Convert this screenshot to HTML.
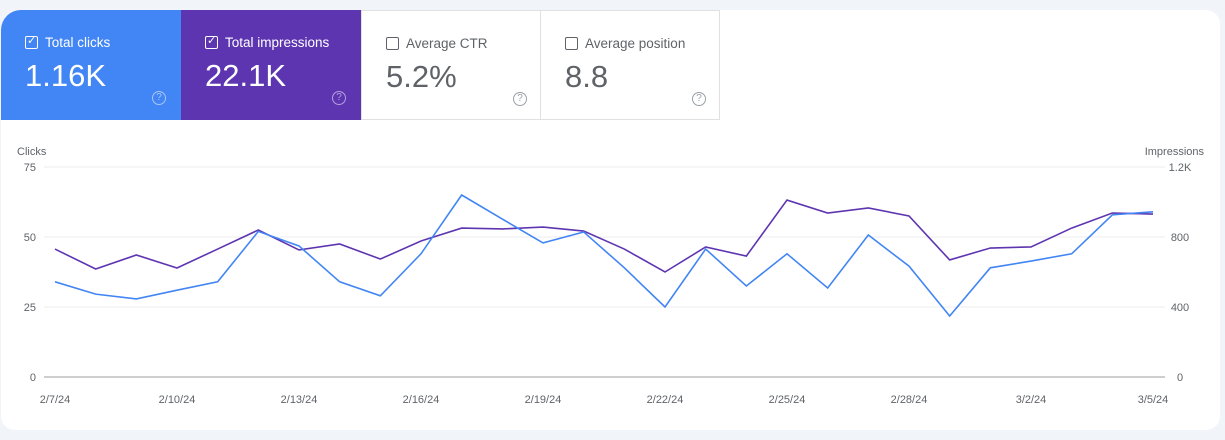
<!DOCTYPE html>
<html><head><meta charset="utf-8"><style>
body{margin:0;width:1225px;height:440px;background:#f1f4f9;font-family:"Liberation Sans",Arial,sans-serif;overflow:hidden;position:relative}
.card{position:absolute;left:1px;top:10px;width:1219px;height:420px;background:#fff;border-radius:20px 14px 14px 14px;overflow:hidden}
.tile{position:absolute;top:0;width:180px;height:110px;box-sizing:border-box}
.tile .lbl{position:absolute;left:24px;top:25px;font-size:13.5px}
.tile .cb{display:inline-block;width:11px;height:11px;border:1.5px solid;border-radius:2px;vertical-align:-2px;margin-right:7px;position:relative}
.tile .val{position:absolute;left:24px;top:48px;font-size:31px}
.tile .q{position:absolute;left:151px;top:81px;width:12px;height:12px;border:1.5px solid;border-radius:50%;font-size:10px;text-align:center;line-height:12px}
</style></head><body>
<div class="card">
<div class="tile" style="left:0;background:#4285f4;color:#fff"><div class="lbl"><span class="cb" style="border-color:#fff"><span style="position:absolute;left:1px;top:-3px;font-size:11px">✓</span></span>Total clicks</div><div class="val">1.16K</div><div class="q" style="border-color:#a9c6fa;color:#a9c6fa">?</div></div>
<div class="tile" style="left:180px;background:#5e35b1;color:#fff"><div class="lbl"><span class="cb" style="border-color:#fff"><span style="position:absolute;left:1px;top:-3px;font-size:11px">✓</span></span>Total impressions</div><div class="val">22.1K</div><div class="q" style="border-color:#b3a0de;color:#b3a0de">?</div></div>
<div class="tile" style="left:360px;border:1px solid #e0e0e0;color:#5f6368"><div class="lbl"><span class="cb" style="border-color:#5f6368"></span>Average CTR</div><div class="val">5.2%</div><div class="q" style="border-color:#9aa0a6;color:#9aa0a6">?</div></div>
<div class="tile" style="left:539px;border:1px solid #e0e0e0;color:#5f6368"><div class="lbl"><span class="cb" style="border-color:#5f6368"></span>Average position</div><div class="val">8.8</div><div class="q" style="border-color:#9aa0a6;color:#9aa0a6">?</div></div>
</div>
<svg id="chart" width="1225" height="440" style="position:absolute;left:0;top:0"></svg>
<script>
const dates=['2/7/24','2/8/24','2/9/24','2/10/24','2/11/24','2/12/24','2/13/24','2/14/24','2/15/24','2/16/24','2/17/24','2/18/24','2/19/24','2/20/24','2/21/24','2/22/24','2/23/24','2/24/24','2/25/24','2/26/24','2/27/24','2/28/24','2/29/24','3/1/24','3/2/24','3/3/24','3/4/24','3/5/24'];
const clicks=[34,29.6,27.9,31,34,52,46.8,34,29,44,65,56.4,47.9,51.8,39,25,45.7,32.5,44,31.8,50.7,39.6,21.8,39,41.4,44,57.9,59];
const impressions=[731,617,697,623,731,840,726,760,674,777,851,846,857,834,731,600,743,691,1011,937,966,920,669,737,743,851,937,931];
const leftTicks=[0,25,50,75];
const rightTicks=['0','400','800','1.2K'];
const rightVals=[0,400,800,1200];
const NS='http://www.w3.org/2000/svg',svg=document.getElementById('chart');
const X0=55,X1=1153,Y0=377,Y1=167;
const x=i=>X0+(X1-X0)*i/(dates.length-1);
const yl=v=>Y0-(Y0-Y1)*v/75;
const yr=v=>Y0-(Y0-Y1)*v/1200;
function mk(t,a,txt){const e=document.createElementNS(NS,t);for(const k in a)e.setAttribute(k,a[k]);if(txt!==undefined)e.textContent=txt;svg.appendChild(e);return e;}
leftTicks.forEach((v,i)=>{
 const g=mk('line',{x1:44,x2:1165,y1:yl(v),y2:yl(v),stroke:v===0?'#9e9e9e':'#ececec','stroke-width':1});
 
 const t=mk('text',{x:36,y:yl(v)+4,'text-anchor':'end','font-size':11,fill:'#5f6368'},String(v));
 
 const r=mk('text',{x:1180,y:yr(rightVals[i])+4,'text-anchor':'middle','font-size':11,fill:'#5f6368'},rightTicks[i]);
 
});
const lt=mk('text',{x:17,y:155,'font-size':11,fill:'#5f6368'},'Clicks');

const rt=mk('text',{x:1204,y:155,'text-anchor':'end','font-size':11,fill:'#5f6368'},'Impressions');

dates.forEach((d,i)=>{if(i%3===0){const t=mk('text',{x:x(i),y:403,'text-anchor':'middle','font-size':11,fill:'#5f6368'},d);
 }});
const pi=mk('polyline',{points:impressions.map((v,i)=>x(i)+','+yr(v)).join(' '),fill:'none',stroke:'#5e35b1','stroke-width':1.6});

const pc=mk('polyline',{points:clicks.map((v,i)=>x(i)+','+yl(v)).join(' '),fill:'none',stroke:'#4285f4','stroke-width':1.6});

</script>
</body></html>
